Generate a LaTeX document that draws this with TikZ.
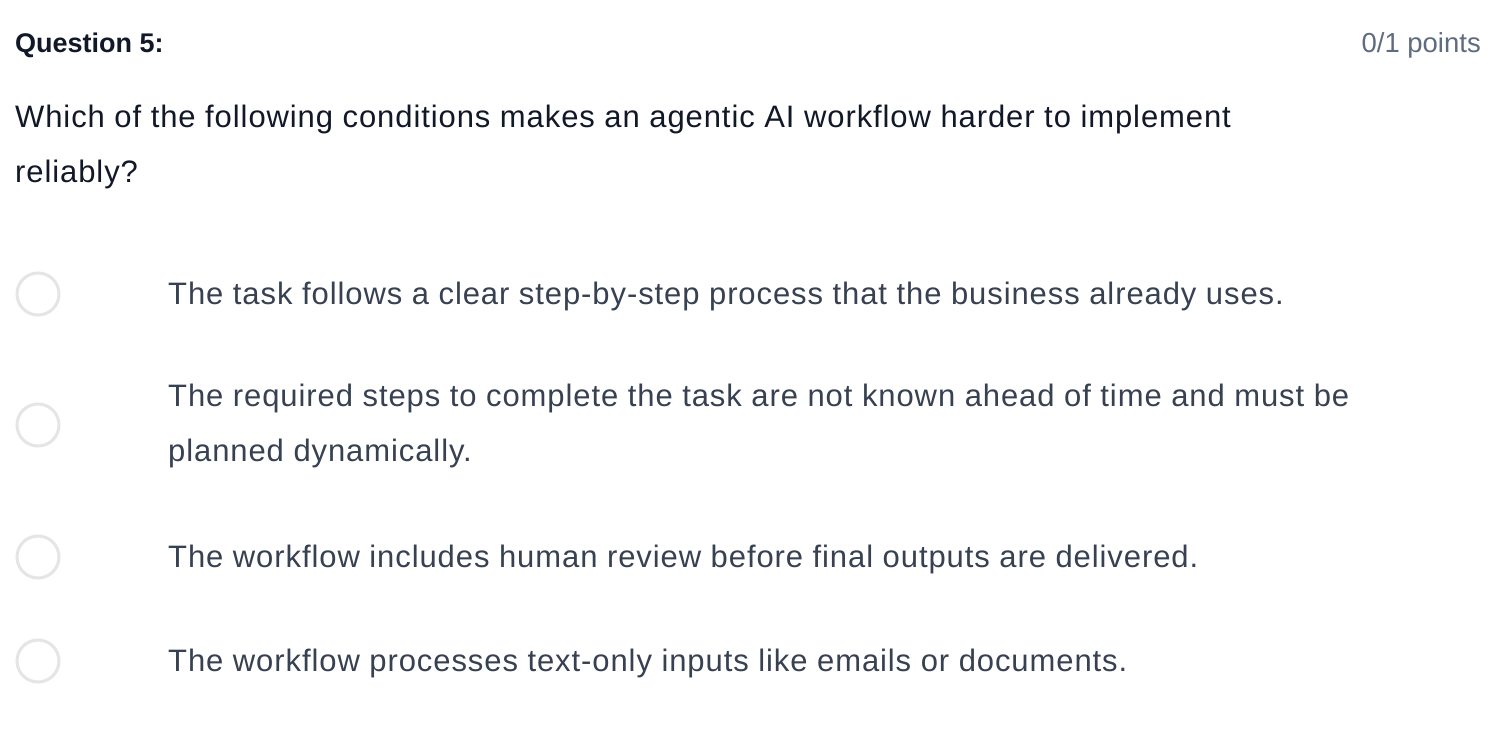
\documentclass[tikz,border=0pt]{standalone}
\usepackage{fontspec}
\setmainfont{Liberation Sans}
\newfontfamily\bodyfont[LetterSpace=2.95]{Liberation Sans}
\definecolor{titlec}{HTML}{111827}
\definecolor{pointc}{HTML}{5F6B7F}
\definecolor{qc}{HTML}{111827}
\definecolor{optc}{HTML}{374151}
\definecolor{ringc}{HTML}{E5E5E5}
\tikzset{
  txt/.style={anchor=base west, inner sep=0pt, font=\bodyfont\fontsize{31}{37}\selectfont},
  qtxt/.style={txt, text=qc},
  otxt/.style={txt, text=optc},
  ring/.style={circle, draw=ringc, line width=3pt, minimum size=42pt, inner sep=0pt},
}
\begin{document}
\begin{tikzpicture}[x=1pt,y=-1pt]
\useasboundingbox[fill=white] (0,0) rectangle (1512,730);
\node[anchor=base west, inner sep=0pt, text=titlec, font=\fontsize{27}{32}\selectfont\bfseries] (title) at (15,53) {Question 5:};
\node[anchor=base east, inner sep=0pt, text=pointc, font=\fontsize{27.5}{32}\selectfont] (pts) at (1481,53) {0/1 points};
\node[qtxt] (q1) at (15,128) {Which of the following conditions makes an agentic AI workflow harder to implement};
\node[qtxt] (q2) at (15,183) {reliably?};
\node[ring] (r1) at (38,294) {};
\node[otxt] (o1) at (168,304) {The task follows a clear step-by-step process that the business already uses.};
\node[ring] (r2) at (38,425) {};
\node[otxt] (o2a) at (168,406) {The required steps to complete the task are not known ahead of time and must be};
\node[otxt] (o2b) at (168,461) {planned dynamically.};
\node[ring] (r3) at (38,557) {};
\node[otxt] (o3) at (168,567) {The workflow includes human review before final outputs are delivered.};
\node[ring] (r4) at (38,661) {};
\node[otxt] (o4) at (168,671) {The workflow processes text-only inputs like emails or documents.};
\end{tikzpicture}
\end{document}
